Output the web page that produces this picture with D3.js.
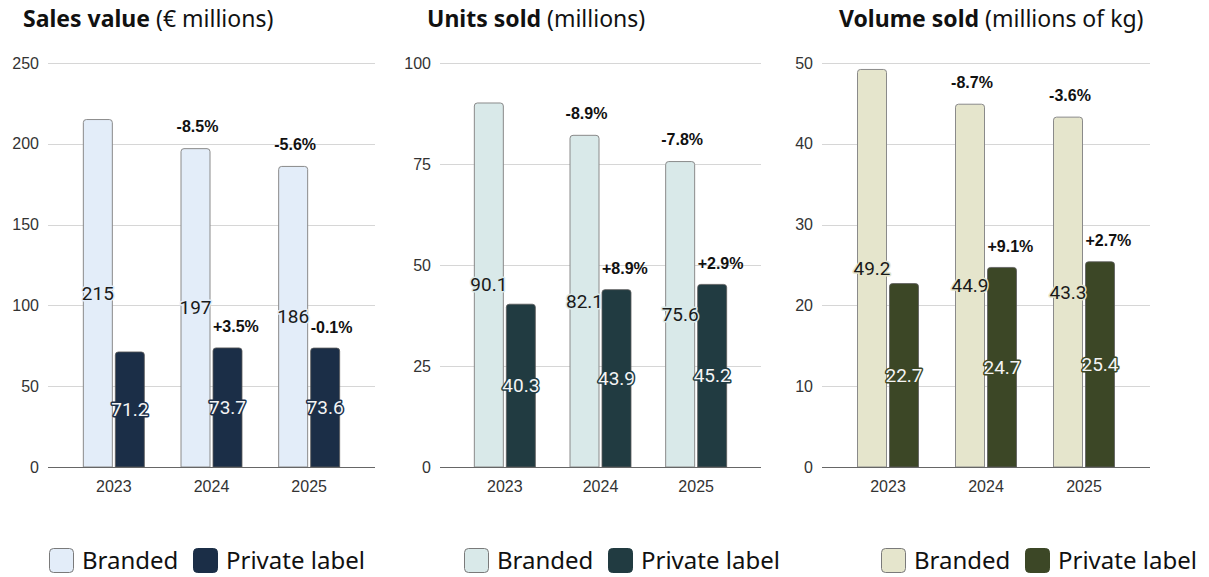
<!DOCTYPE html>
<html>
<head>
<meta charset="utf-8">
<script src="https://cdn.jsdelivr.net/npm/d3@7"></script>
<style>
  html, body { margin: 0; padding: 0; background: #ffffff; }
  svg { display: block; }
</style>
</head>
<body>
<svg id="chart" width="1209" height="577"></svg>
<script>
// ---------------- DATA ----------------
const years = ["2023", "2024", "2025"];

const salesBranded = [215, 197, 186];
const salesPrivate = [71.2, 73.7, 73.6];
const salesBrandedChange = ["", "-8.5%", "-5.6%"];
const salesPrivateChange = ["", "+3.5%", "-0.1%"];
const salesTicks = [0, 50, 100, 150, 200, 250];

const unitsBranded = [90.1, 82.1, 75.6];
const unitsPrivate = [40.3, 43.9, 45.2];
const unitsBrandedChange = ["", "-8.9%", "-7.8%"];
const unitsPrivateChange = ["", "+8.9%", "+2.9%"];
const unitsTicks = [0, 25, 50, 75, 100];

const volumeBranded = [49.2, 44.9, 43.3];
const volumePrivate = [22.7, 24.7, 25.4];
const volumeBrandedChange = ["", "-8.7%", "-3.6%"];
const volumePrivateChange = ["", "+9.1%", "+2.7%"];
const volumeTicks = [0, 10, 20, 30, 40, 50];

const titlesBold = ["Sales value", "Units sold", "Volume sold"];
const titlesRest = ["(€ millions)", "(millions)", "(millions of kg)"];
const seriesNames = ["Branded", "Private label"];

// ---------------- LAYOUT / STYLE ----------------
const panels = [
  { branded: salesBranded, priv: salesPrivate, bc: salesBrandedChange, pc: salesPrivateChange, ticks: salesTicks,
    gx0: 48, gx1: 375, titleX: 23, legendX: 49,
    fillB: "#e3edf9", fillP: "#1b2e47" },
  { branded: unitsBranded, priv: unitsPrivate, bc: unitsBrandedChange, pc: unitsPrivateChange, ticks: unitsTicks,
    gx0: 440, gx1: 761, titleX: 427, legendX: 464,
    fillB: "#d9e9e9", fillP: "#213b41" },
  { branded: volumeBranded, priv: volumePrivate, bc: volumeBrandedChange, pc: volumePrivateChange, ticks: volumeTicks,
    gx0: 822, gx1: 1150, titleX: 839, legendX: 881,
    fillB: "#e5e5cc", fillP: "#3c4726" }
];

const yTop = 63, yBottom = 467;
const barW = 29, barGap = 3;
const tickFont = "'Liberation Sans', Arial, sans-serif";
const uiFont = "'Noto Sans', 'Open Sans', sans-serif";
const valueFont = "Roboto, 'Noto Sans', sans-serif";

const svg = d3.select("#chart");

function topRoundedRect(x, y, w, h, r) {
  r = Math.min(r, h, w / 2);
  return `M${x},${y + h}V${y + r}Q${x},${y} ${x + r},${y}H${x + w - r}Q${x + w},${y} ${x + w},${y + r}V${y + h}Z`;
}

panels.forEach((p, pi) => {
  const g = svg.append("g");
  const y = d3.scaleLinear().domain([0, d3.max(p.ticks)]).range([yBottom, yTop]);
  const x = d3.scaleBand().domain(years).range([p.gx0 + 17, p.gx1 - 17]).padding(0);
  const cx = d => x(d) + x.bandwidth() / 2;

  // title
  const t = g.append("text").attr("x", p.titleX).attr("y", 27)
    .attr("font-family", uiFont).attr("font-size", 23).attr("fill", "#111");
  t.append("tspan").attr("font-weight", 700).text(titlesBold[pi]);
  t.append("tspan").attr("font-weight", 400).text(" " + titlesRest[pi]);

  // gridlines
  g.selectAll(".grid").data(p.ticks.filter(v => v !== 0)).join("line")
    .attr("x1", p.gx0).attr("x2", p.gx1)
    .attr("y1", d => Math.round(y(d)) + 0.5).attr("y2", d => Math.round(y(d)) + 0.5)
    .attr("stroke", "#d6d6d6").attr("stroke-width", 1);

  // y axis labels
  const yAxis = d3.axisLeft(y).tickValues(p.ticks).tickSize(0).tickPadding(0);
  const ya = g.append("g").attr("transform", `translate(${p.gx0 - 9},0)`).call(yAxis);
  ya.select(".domain").remove();
  ya.selectAll("text").attr("font-family", tickFont).attr("font-size", 16).attr("fill", "#333");

  // bars branded
  g.selectAll(".bb").data(years).join("path")
    .attr("d", (d, i) => topRoundedRect(cx(d) - barGap / 2 - barW, y(p.branded[i]), barW, y(0) - y(p.branded[i]), 3))
    .attr("fill", p.fillB).attr("stroke", "#8a8a8a").attr("stroke-width", 1);
  // bars private
  g.selectAll(".bp").data(years).join("path")
    .attr("d", (d, i) => topRoundedRect(cx(d) + barGap / 2, y(p.priv[i]), barW, y(0) - y(p.priv[i]), 3))
    .attr("fill", p.fillP).attr("stroke", "#5a5a5a").attr("stroke-width", 0.8);

  // x axis
  const xAxis = d3.axisBottom(x).tickSize(0).tickPadding(0);
  const xa = g.append("g").attr("transform", `translate(0,${yBottom})`).call(xAxis);
  xa.select(".domain").remove();
  xa.selectAll("text").attr("font-family", tickFont).attr("font-size", 16).attr("fill", "#333")
    .attr("dy", null).attr("y", 25);
  g.append("line").attr("x1", p.gx0).attr("x2", p.gx1).attr("y1", yBottom + 0.5).attr("y2", yBottom + 0.5)
    .attr("stroke", "#666").attr("stroke-width", 1.2);

  // value labels branded
  g.selectAll(".vb").data(years).join("text")
    .attr("x", d => cx(d) - barGap / 2 - barW / 2)
    .attr("y", (d, i) => y(p.branded[i] / 2))
    .attr("text-anchor", "middle").attr("dominant-baseline", "central")
    .attr("font-family", valueFont).attr("font-size", 19)
    .attr("fill", "#1a1a1a").attr("stroke", p.fillB).attr("stroke-width", 3)
    .attr("paint-order", "stroke").attr("stroke-linejoin", "round")
    .text((d, i) => String(p.branded[i]));
  // value labels private
  g.selectAll(".vp").data(years).join("text")
    .attr("x", d => cx(d) + barGap / 2 + barW / 2)
    .attr("y", (d, i) => y(p.priv[i] / 2))
    .attr("text-anchor", "middle").attr("dominant-baseline", "central")
    .attr("font-family", valueFont).attr("font-size", 19)
    .attr("fill", "#f4f4f4").attr("stroke", p.fillP).attr("stroke-width", 3)
    .attr("paint-order", "stroke").attr("stroke-linejoin", "round")
    .text((d, i) => String(p.priv[i]));

  // change labels
  g.selectAll(".cb").data(years).join("text")
    .attr("x", d => cx(d) - barGap / 2 - barW / 2 + 2)
    .attr("y", (d, i) => y(p.branded[i]) - 22)
    .attr("text-anchor", "middle").attr("dominant-baseline", "central")
    .attr("font-family", tickFont).attr("font-size", 16).attr("font-weight", 700).attr("fill", "#111")
    .text((d, i) => p.bc[i]);
  g.selectAll(".cp").data(years).join("text")
    .attr("x", d => cx(d) + barGap / 2)
    .attr("y", (d, i) => y(p.priv[i]) - 21)
    .attr("text-anchor", "start").attr("dominant-baseline", "central")
    .attr("font-family", tickFont).attr("font-size", 16).attr("font-weight", 700).attr("fill", "#111")
    .text((d, i) => p.pc[i]);

  // legend
  const lg = g.append("g").attr("transform", `translate(${p.legendX},548)`);
  const offsets = [0, 144];
  seriesNames.forEach((name, si) => {
    lg.append("rect").attr("x", offsets[si] + 0.5).attr("y", 0.5).attr("width", 24).attr("height", 24)
      .attr("rx", 4).attr("ry", 4)
      .attr("fill", si === 0 ? p.fillB : p.fillP)
      .attr("stroke", si === 0 ? "#7a7a7a" : p.fillP).attr("stroke-width", 1);
    lg.append("text").attr("x", offsets[si] + 33).attr("y", 21)
      .attr("font-family", uiFont).attr("font-size", 24).attr("fill", "#111")
      .text(name);
  });
});
</script>
</body>
</html>
